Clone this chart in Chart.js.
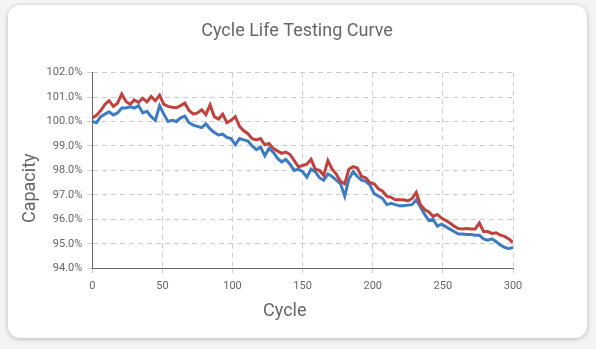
<!DOCTYPE html>
<html>
<head>
<meta charset="utf-8">
<script src="https://cdn.jsdelivr.net/npm/chart.js@4"></script>
<style>
html,body{margin:0;padding:0;background:#f4f4f4;width:596px;height:349px;overflow:hidden;}
#card{position:absolute;left:8px;top:5px;width:579px;height:333px;background:#fff;border-radius:12px;box-shadow:0 1px 5px rgba(0,0,0,0.25);overflow:hidden;}
canvas{display:block;}
</style>
</head>
<body>
<div id="card"><canvas id="c" width="579" height="333"></canvas></div>
<script>
const cycles = [0,3,6,9,12,15,18,21,24,27,30,33,36,39,42,45,48,51,54,57,60,63,66,69,72,75,78,81,84,87,90,93,96,99,102,105,108,111,114,117,120,123,126,129,132,135,138,141,144,147,150,153,156,159,162,165,168,171,174,177,180,183,186,189,192,195,198,201,204,207,210,213,216,219,222,225,228,231,234,237,240,243,246,249,252,255,258,261,264,267,270,273,276,279,282,285,288,291,294,297,300];

const redCapacity = [100.15,100.25,100.45,100.7,100.85,100.62,100.75,101.12,100.82,100.7,100.88,100.78,100.95,100.8,101.02,100.85,101.08,100.7,100.62,100.58,100.56,100.65,100.75,100.45,100.3,100.35,100.48,100.28,100.68,100.2,100.1,100.3,99.95,100.05,100.2,99.8,99.62,99.5,99.3,99.25,99.3,99.05,99.1,98.9,98.8,98.7,98.75,98.65,98.4,98.15,98.2,98.25,98.45,98.05,98.0,97.8,98.4,98.05,97.85,97.55,97.45,98.05,98.15,98.1,97.75,97.7,97.5,97.45,97.25,97.15,96.95,96.9,96.8,96.8,96.8,96.75,96.85,97.1,96.6,96.4,96.3,96.12,96.2,96.05,95.95,95.85,95.72,95.62,95.6,95.62,95.6,95.6,95.85,95.5,95.5,95.42,95.45,95.35,95.3,95.2,95.05];

const blueCapacity = [100.0,99.95,100.2,100.3,100.4,100.27,100.35,100.55,100.55,100.6,100.55,100.65,100.35,100.42,100.2,100.05,100.65,100.3,100.0,100.05,100.0,100.15,100.22,99.95,99.85,99.8,99.75,99.9,99.7,99.55,99.45,99.48,99.35,99.3,99.05,99.3,99.25,99.2,99.0,98.85,98.95,98.6,98.9,98.75,98.5,98.35,98.45,98.25,98.0,98.05,97.95,97.72,98.05,97.95,97.7,97.6,97.85,97.75,97.6,97.45,96.95,97.65,97.95,97.75,97.6,97.55,97.4,97.05,96.95,96.85,96.6,96.65,96.6,96.55,96.55,96.58,96.6,96.8,96.5,96.2,95.95,96.0,95.72,95.8,95.7,95.6,95.5,95.4,95.4,95.38,95.38,95.35,95.35,95.2,95.15,95.2,95.08,94.95,94.85,94.8,94.85];

const xTicks = [0,50,100,150,200,250,300];
const yTicks = [94,95,96,97,98,99,100,101,102];

const toPts = (xs, ys) => xs.map((x, i) => ({x: x, y: ys[i]}));

Chart.defaults.font.family = 'Roboto, "Noto Sans", sans-serif';
Chart.defaults.color = '#666';

new Chart(document.getElementById('c'), {
  type: 'line',
  data: {
    datasets: [
      {label: 'Cell A', data: toPts(cycles, redCapacity), borderColor: '#c0423f', borderWidth: 3, pointRadius: 0, tension: 0, fill: false},
      {label: 'Cell B', data: toPts(cycles, blueCapacity), borderColor: '#3d7bc2', borderWidth: 3, pointRadius: 0, tension: 0, fill: false}
    ]
  },
  options: {
    responsive: false,
    animation: false,
    layout: {padding: {top: 6, left: 8, right: 9, bottom: 12}},
    plugins: {
      legend: {display: false},
      tooltip: {enabled: false},
      title: {display: true, text: 'Cycle Life Testing Curve', color: '#666', font: {size: 18, weight: 'normal'}, padding: {top: 10, bottom: 30}}
    },
    scales: {
      x: {
        type: 'linear', min: 0, max: 300,
        afterBuildTicks: s => { s.ticks = xTicks.map(v => ({value: v})); },
        ticks: {font: {size: 11}, color: '#666', padding: 6, maxRotation: 0},
        grid: {color: '#cccccc', tickLength: 5},
        border: {display: true, color: '#666', width: 1, dash: [5, 4]},
        title: {display: true, text: 'Cycle        ', color: '#666', font: {size: 18}, padding: {top: 2, bottom: 4}}
      },
      y: {
        min: 94, max: 102,
        afterBuildTicks: s => { s.ticks = yTicks.map(v => ({value: v})); },
        ticks: {font: {size: 11}, color: '#666', padding: 5, callback: v => v.toFixed(1) + '%'},
        grid: {color: '#cccccc', tickLength: 5},
        border: {display: true, color: '#666', width: 1, dash: [5, 4]},
        title: {display: true, text: 'Capacity        ', color: '#666', font: {size: 18}, padding: {top: 4, bottom: 0}}
      },
      rightSpace: {
        type: 'linear', position: 'right', display: true,
        ticks: {display: false}, grid: {display: false}, border: {display: false},
        afterFit: s => { s.width = 65; }
      }
    }
  }
});
</script>
</body>
</html>
